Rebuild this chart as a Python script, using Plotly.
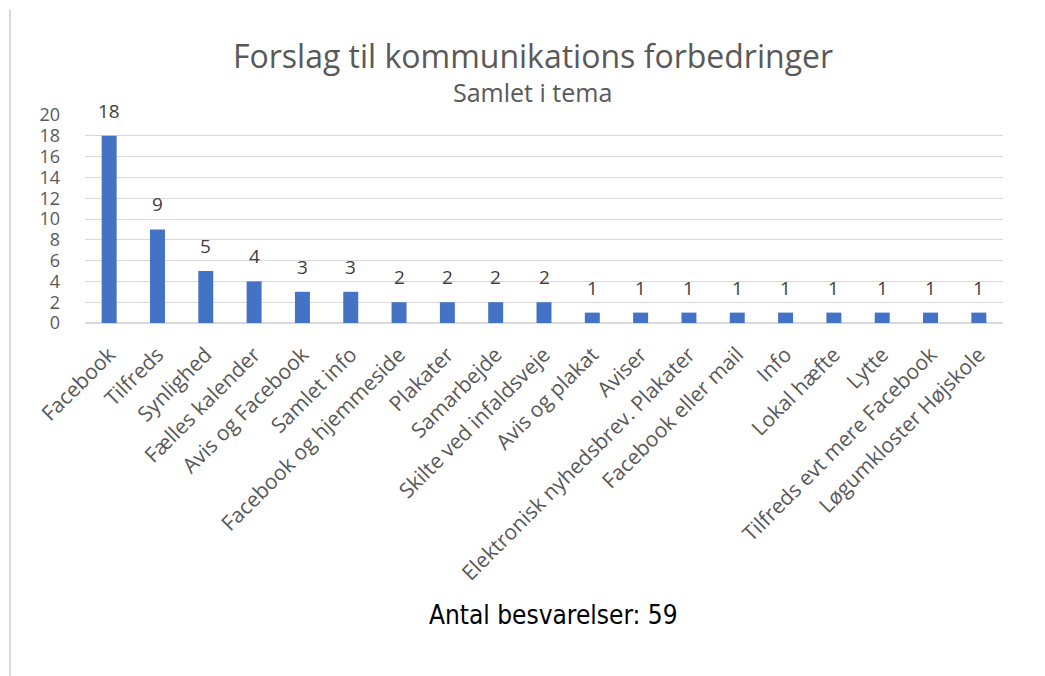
import plotly.graph_objects as go

categories = [
    "Facebook", "Tilfreds", "Synlighed", "Fælles kalender", "Avis og Facebook",
    "Samlet info", "Facebook og hjemmeside", "Plakater", "Samarbejde",
    "Skilte ved infaldsveje", "Avis og plakat", "Aviser",
    "Elektronisk nyhedsbrev. Plakater", "Facebook eller mail", "Info",
    "Lokal hæfte", "Lytte", "Tilfreds evt mere Facebook", "Løgumkloster Højskole",
]
counts = [18, 9, 5, 4, 3, 3, 2, 2, 2, 2, 1, 1, 1, 1, 1, 1, 1, 1, 1]
y_ticks = list(range(0, 21, 2))
total_label = "Antal besvarelser: 59"

FONT = "Open Sans"
GREY = "#595959"

fig = go.Figure()
fig.add_trace(
    go.Bar(
        x=categories,
        y=counts,
        marker=dict(color="#4472C4", line=dict(width=0)),
        hoverinfo="x+y",
    )
)

# value labels above each bar
for cat, val in zip(categories, counts):
    fig.add_annotation(
        x=cat, y=val, text=str(val),
        showarrow=False, yshift=25,
        xanchor="center", yanchor="middle",
        font=dict(family=FONT, size=19, color="#404040"),
    )

# page body adds 8px offset, margins compensate for that
fig.update_layout(
    width=1045,
    height=676,
    plot_bgcolor="white",
    paper_bgcolor="white",
    margin=dict(l=77, r=50, t=107, b=361, autoexpand=False),
    bargap=0.69,
    showlegend=False,
    font=dict(family=FONT, color=GREY),
    title=dict(
        text="Forslag til kommunikations forbedringer",
        xref="container",
        x=0.5024,
        xanchor="center",
        y=0.9275,
        yanchor="middle",
        font=dict(family=FONT, size=32, color=GREY),
    ),
)

fig.add_annotation(
    text="Samlet i tema",
    xref="paper", yref="paper",
    x=0.487, y=1.11,
    xanchor="center", yanchor="middle",
    showarrow=False,
    font=dict(family=FONT, size=25, color=GREY),
)

fig.add_annotation(
    text=total_label,
    xref="paper", yref="paper",
    x=0.51, y=-1.404,
    xanchor="center", yanchor="middle",
    showarrow=False,
    font=dict(family="DejaVu Sans Condensed, Liberation Sans Narrow, Open Sans", size=26, color="#000000"),
)

# thin border line on the left edge
fig.add_shape(
    type="line",
    xref="paper", yref="paper",
    x0=-0.0817, x1=-0.0817, y0=1.505, y1=-1.7,
    line=dict(color="#d9d9d9", width=2),
)

fig.update_xaxes(
    automargin=False,
    tickangle=-45,
    tickfont=dict(family=FONT, size=21, color=GREY),
    ticklabelstandoff=10,
    showgrid=False,
    showline=True,
    linecolor="#d9d9d9",
    linewidth=1,
    ticks="",
)
fig.update_yaxes(
    automargin=False,
    range=[0, 20],
    tickvals=y_ticks,
    tickfont=dict(family=FONT, size=18, color=GREY),
    ticklabelstandoff=24,
    showgrid=True,
    gridcolor="#d9d9d9",
    gridwidth=1,
    zeroline=True,
    zerolinecolor="#d9d9d9",
    showline=False,
    ticks="",
)

fig.write_html("out.html")
